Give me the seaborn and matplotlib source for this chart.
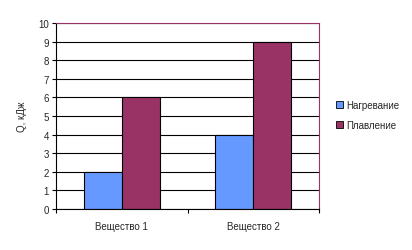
import matplotlib
matplotlib.use("Agg")
import matplotlib.pyplot as plt
import seaborn as sns
import pandas as pd
from matplotlib.patches import Patch

categories = ["Вещество 1", "Вещество 2"]
series = ["Нагревание", "Плавление"]
heating = [2, 4]
melting = [6, 9]
colors = ["#6699FF", "#993366"]

df = pd.DataFrame({
    "cat": categories * 2,
    "series": [series[0]] * 2 + [series[1]] * 2,
    "val": heating + melting,
})

sns.set_style("white")
plt.rcParams["font.family"] = ["Liberation Sans", "DejaVu Sans"]

fig = plt.figure(figsize=(4.12, 2.51), dpi=100)
ax = fig.add_axes([56/412, 41/251, 263/412, 186/251])
sns.barplot(data=df, x="cat", y="val", hue="series", palette=colors,
            width=0.578, edgecolor="black", linewidth=0.8, ax=ax,
            legend=False, saturation=1)
ax.set_xlim(-0.5, 1.5)
ax.set_ylim(0, 10)
ax.set_yticks(range(0, 11))
ax.yaxis.grid(True, color="black", linewidth=0.8)
ax.set_axisbelow(True)
ax.tick_params(axis="y", length=3, width=0.8, direction="out", left=True,
               labelsize=7, pad=2, color="black")
ax.tick_params(axis="x", which="major", length=0, labelsize=7, pad=9)
ax.set_xticks([-0.5, 0.5, 1.5], minor=True)
ax.tick_params(axis="x", which="minor", length=3, width=0.8, bottom=True,
               direction="out", color="black")
ax.set_xlabel("")
ax.set_ylabel("Q, кДж", fontsize=7, labelpad=8)
for s in ["left", "bottom"]:
    ax.spines[s].set_color("black")
    ax.spines[s].set_linewidth(0.8)
for s in ["top", "right"]:
    ax.spines[s].set_color("#993366")
    ax.spines[s].set_linewidth(0.8)

handles = [Patch(facecolor=c, edgecolor="black", linewidth=0.6) for c in colors]
fig.legend(handles, series, loc="center left", bbox_to_anchor=(327/412, 1 - 116/251),
           frameon=False, fontsize=7, handlelength=0.7, handleheight=0.7,
           handletextpad=0.4, labelspacing=1.0)

fig.savefig("out.png", dpi=100)
